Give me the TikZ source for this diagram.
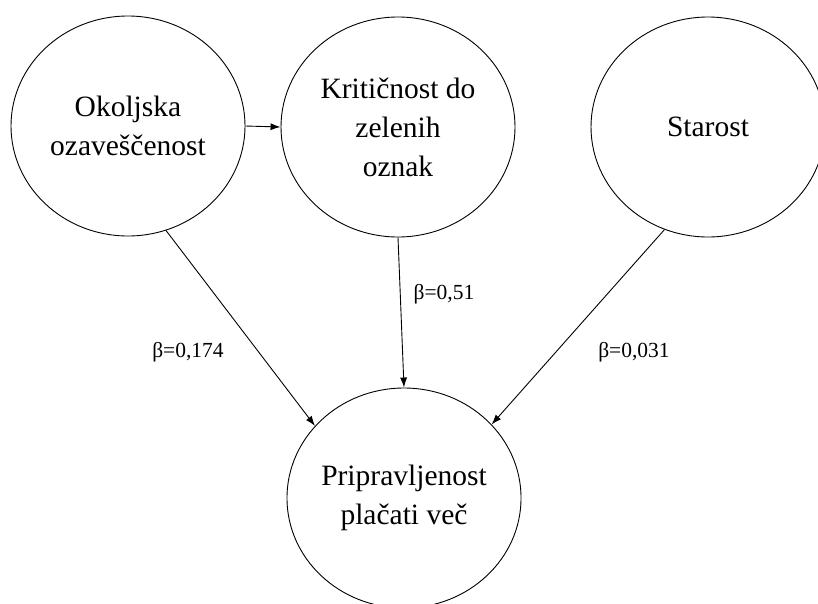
\documentclass[tikz,border=0pt]{standalone}
\usepackage{fontspec}
\setmainfont{Liberation Serif}
\usetikzlibrary{arrows.meta,shapes.geometric}
\tikzset{
  construct/.style={draw,ellipse,line width=0.9pt,minimum width=234pt,minimum height=220pt,
    inner sep=0pt,align=center,font=\fontsize{29.5}{39}\selectfont},
  link/.style={-{Latex[length=10pt,width=7pt]},line width=0.9pt},
  coef/.style={font=\fontsize{21.5}{26}\selectfont}
}

\begin{document}
\begin{tikzpicture}[x=1pt,y=-1pt]
  \useasboundingbox (0,0) rectangle (818,603);
  % constructs
  \node[construct] (okolje) at (128,126) {Okoljska\\ozaveščenost};
  \node[construct] (kriticnost) at (398,127) {Kritičnost do\\zelenih\\oznak};
  \node[construct] (starost) at (708,127) {Starost};
  \node[construct] (pripravljenost) at (404,498) {Pripravljenost\\plačati več};
  % paths
  \draw[link] (okolje.east) -- (kriticnost.west);
  \draw[link] (okolje.-70) -- (pripravljenost.141);
  \draw[link] (kriticnost.south) -- (pripravljenost.north);
  \draw[link] (starost.-113) -- (pripravljenost.40);
  % coefficients
  \node[coef] (b1) at (188,352) {β=0,174};
  \node[coef] (b2) at (444,294) {β=0,51};
  \node[coef] (b3) at (634,352) {β=0,031};
\end{tikzpicture}
\end{document}
